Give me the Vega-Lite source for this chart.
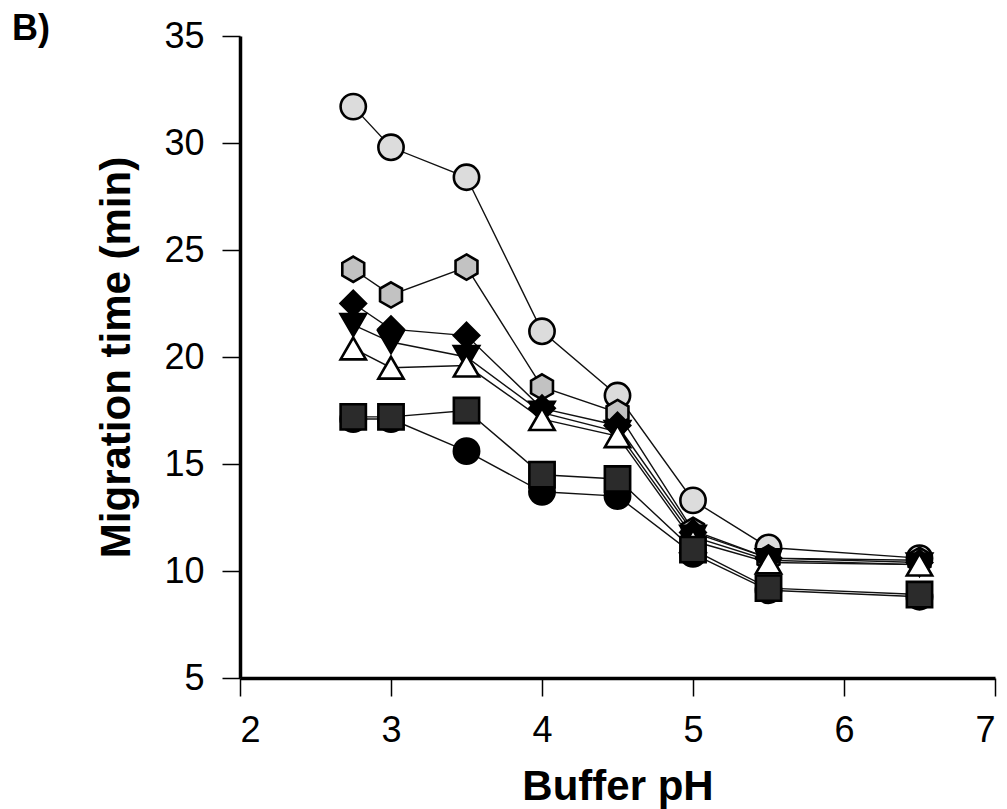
{
  "$schema": "https://vega.github.io/schema/vega-lite/v6.json",
  "width": 755,
  "height": 642,
  "autosize": {"type": "none"},
  "padding": {"left": 240, "top": 36, "right": 12, "bottom": 131},
  "background": "white",
  "title": {"text": "B)", "anchor": "start", "frame": "group", "fontSize": 36, "fontWeight": "bold", "font": "Liberation Sans", "color": "black", "baseline": "alphabetic", "offset": 0, "dx": -228, "dy": 58},
  "config": {
    "view": {"stroke": null},
    "axis": {"grid": false, "domainColor": "black", "tickColor": "black", "labelColor": "black", "titleColor": "black", "labelFont": "Liberation Sans", "titleFont": "Liberation Sans", "labelFontSize": 36, "titleFontSize": 42, "titleFontWeight": "bold", "tickWidth": 1.5, "tickSize": 18, "domainWidth": 3.5}
  },
  "data": {"values": [
    {"series": "A", "pH": 2.75, "t": 31.7}, {"series": "A", "pH": 3, "t": 29.8}, {"series": "A", "pH": 3.5, "t": 28.4}, {"series": "A", "pH": 4, "t": 21.2}, {"series": "A", "pH": 4.5, "t": 18.2}, {"series": "A", "pH": 5, "t": 13.3}, {"series": "A", "pH": 5.5, "t": 11.1}, {"series": "A", "pH": 6.5, "t": 10.6},
    {"series": "B", "pH": 2.75, "t": 24.1}, {"series": "B", "pH": 3, "t": 22.9}, {"series": "B", "pH": 3.5, "t": 24.2}, {"series": "B", "pH": 4, "t": 18.6}, {"series": "B", "pH": 4.5, "t": 17.4}, {"series": "B", "pH": 5, "t": 11.9}, {"series": "B", "pH": 5.5, "t": 10.6}, {"series": "B", "pH": 6.5, "t": 10.5},
    {"series": "C", "pH": 2.75, "t": 22.5}, {"series": "C", "pH": 3, "t": 21.3}, {"series": "C", "pH": 3.5, "t": 21.0}, {"series": "C", "pH": 4, "t": 17.6}, {"series": "C", "pH": 4.5, "t": 16.8}, {"series": "C", "pH": 5, "t": 11.8}, {"series": "C", "pH": 5.5, "t": 10.6}, {"series": "C", "pH": 6.5, "t": 10.4},
    {"series": "D", "pH": 2.75, "t": 21.5}, {"series": "D", "pH": 3, "t": 20.7}, {"series": "D", "pH": 3.5, "t": 20.0}, {"series": "D", "pH": 4, "t": 17.4}, {"series": "D", "pH": 4.5, "t": 16.5}, {"series": "D", "pH": 5, "t": 11.6}, {"series": "D", "pH": 5.5, "t": 10.5}, {"series": "D", "pH": 6.5, "t": 10.3},
    {"series": "E", "pH": 2.75, "t": 20.4}, {"series": "E", "pH": 3, "t": 19.5}, {"series": "E", "pH": 3.5, "t": 19.6}, {"series": "E", "pH": 4, "t": 17.1}, {"series": "E", "pH": 4.5, "t": 16.3}, {"series": "E", "pH": 5, "t": 11.4}, {"series": "E", "pH": 5.5, "t": 10.4}, {"series": "E", "pH": 6.5, "t": 10.3},
    {"series": "G", "pH": 2.75, "t": 17.1}, {"series": "G", "pH": 3, "t": 17.1}, {"series": "G", "pH": 3.5, "t": 15.6}, {"series": "G", "pH": 4, "t": 13.7}, {"series": "G", "pH": 4.5, "t": 13.5}, {"series": "G", "pH": 5, "t": 10.8}, {"series": "G", "pH": 5.5, "t": 9.1}, {"series": "G", "pH": 6.5, "t": 8.8},
    {"series": "F", "pH": 2.75, "t": 17.2}, {"series": "F", "pH": 3, "t": 17.2}, {"series": "F", "pH": 3.5, "t": 17.5}, {"series": "F", "pH": 4, "t": 14.5}, {"series": "F", "pH": 4.5, "t": 14.3}, {"series": "F", "pH": 5, "t": 11.0}, {"series": "F", "pH": 5.5, "t": 9.2}, {"series": "F", "pH": 6.5, "t": 8.9}
  ]},
  "encoding": {
    "x": {"field": "pH", "type": "quantitative", "scale": {"domain": [2, 7], "nice": false, "zero": false}, "axis": {"values": [2, 3, 4, 5, 6, 7], "title": "Buffer pH", "labelPadding": 17, "titlePadding": 18}},
    "y": {"field": "t", "type": "quantitative", "scale": {"domain": [5, 35], "nice": false, "zero": false}, "axis": {"values": [5, 10, 15, 20, 25, 30, 35], "title": "Migration time (min)", "labelPadding": 18, "titlePadding": 25}}
  },
  "layer": [
    {"mark": {"type": "line", "color": "#111111", "strokeWidth": 1.4}, "encoding": {"detail": {"field": "series"}}},
    {"mark": {"type": "point", "filled": true, "size": 640, "stroke": "black", "strokeWidth": 2.6, "opacity": 1},
     "encoding": {
       "shape": {"field": "series", "type": "nominal", "legend": null, "scale": {"domain": ["A", "B", "C", "D", "E", "F", "G"], "range": ["circle", "M0,-1L0.866,-0.5L0.866,0.5L0,1L-0.866,0.5L-0.866,-0.5Z", "diamond", "triangle-down", "triangle-up", "square", "circle"]}},
       "fill": {"field": "series", "type": "nominal", "legend": null, "scale": {"domain": ["A", "B", "C", "D", "E", "F", "G"], "range": ["#dcdcdc", "#c2c2c2", "#000000", "#000000", "#ffffff", "#2b2b2b", "#000000"]}}
     }}
  ]
}
